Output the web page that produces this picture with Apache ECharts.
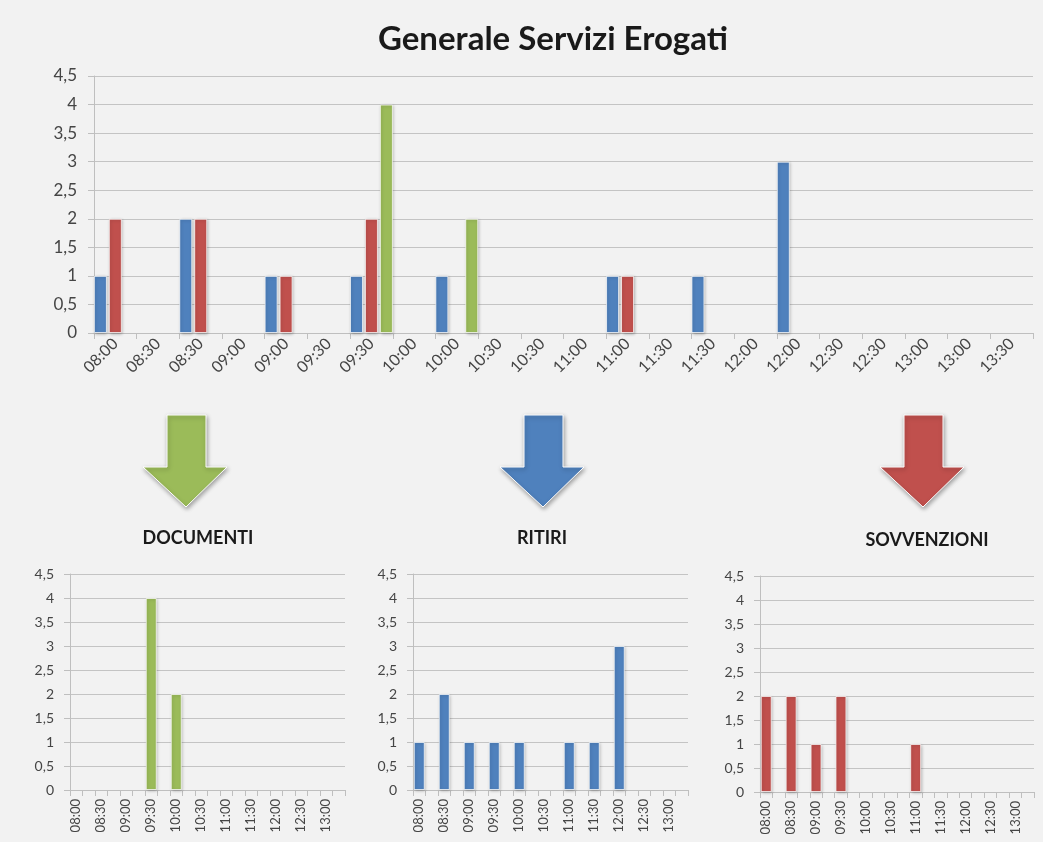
<html lang="it">
<head>
    <meta charset="UTF-8">
    <title>Generale Servizi Erogati</title>
    <script type="text/javascript" src="https://cdn.jsdelivr.net/npm/echarts@6/dist/echarts.min.js"></script>
</head>
<style>
    body { margin: 0; background: #f2f2f2; }
    #container { width: 1043px; height: 842px; }
</style>
<body>
<div id="container"></div>
<script>
    // fasce orarie (22 categorie, come nel foglio)
    var orari = ['08:00', '08:30', '08:30', '09:00', '09:00', '09:30', '09:30', '10:00', '10:00', '10:30', '10:30',
        '11:00', '11:00', '11:30', '11:30', '12:00', '12:00', '12:30', '12:30', '13:00', '13:00', '13:30'];

    // servizi erogati per fascia
    var ritiri      = [1, null, 2, null, 1, null, 1, null, 1, null, null, null, 1, null, 1, null, 3, null, null, null, null, null];
    var sovvenzioni = [2, null, 2, null, 1, null, 2, null, null, null, null, null, 1, null, null, null, null, null, null, null, null, null];
    var documenti   = [null, null, null, null, null, null, 4, null, 2, null, null, null, null, null, null, null, null, null, null, null, null, null];

    var yTicks = [0, 0.5, 1, 1.5, 2, 2.5, 3, 3.5, 4, 4.5];

    var BLU = '#4f81bd', ROSSO = '#c0504d', VERDE = '#9bbb59';
    var FONT = 'Lato';
    var TESTO = '#454545';

    var chart = echarts.init(document.getElementById('container'));

    function asseY(idx, size, margin) {
        return {
            type: 'value', gridIndex: idx,
            min: yTicks[0], max: yTicks[yTicks.length - 1], interval: 0.5,
            axisLine: { show: true, lineStyle: { color: '#bfbfbf' } },
            axisTick: { show: true, length: 6, lineStyle: { color: '#bfbfbf' } },
            splitLine: { lineStyle: { color: '#c4c4c4', width: 1.2 } },
            axisLabel: {
                color: TESTO, fontFamily: FONT, fontSize: size, margin: margin,
                formatter: function (v) { return String(v).replace('.', ','); }
            }
        };
    }

    function asseX(idx, rot, size, labelInterval, margin) {
        return {
            type: 'category', gridIndex: idx, data: orari,
            axisLine: { lineStyle: { color: '#bfbfbf' } },
            axisTick: { show: true, interval: 0, length: 6, lineStyle: { color: '#bfbfbf' } },
            axisLabel: {
                rotate: rot, interval: labelInterval, color: TESTO,
                fontFamily: FONT, fontSize: size, margin: margin
            }
        };
    }

    function stile(colore) {
        return {
            color: colore,
            borderColor: 'rgba(255,255,255,0.7)', borderWidth: 1,
            shadowColor: 'rgba(0,0,0,0.25)', shadowBlur: 3, shadowOffsetX: 1, shadowOffsetY: 1
        };
    }

    function freccia(cx, colore) {
        return {
            type: 'polygon',
            shape: {
                points: [[cx - 19, 415], [cx + 20, 415], [cx + 20, 467], [cx + 41, 467],
                    [cx, 507], [cx - 43, 467], [cx - 19, 467]]
            },
            style: {
                fill: colore, stroke: '#ffffff', lineWidth: 1,
                shadowColor: 'rgba(0,0,0,0.35)', shadowBlur: 4, shadowOffsetX: 1, shadowOffsetY: 2
            }
        };
    }

    function sottotitolo(testo, x, y) {
        return {
            text: testo, left: x, top: y, textAlign: 'center',
            textStyle: { fontFamily: FONT, fontSize: 18, fontWeight: 'bold', color: '#1a1a1a' }
        };
    }

    var option = {
        backgroundColor: '#f2f2f2',
        animation: false,
        title: [
            { text: 'Generale Servizi Erogati', left: 548, top: 18, textAlign: 'center',
              textStyle: { fontFamily: FONT, fontSize: 33, fontWeight: 'bold', color: '#1a1a1a' } },
            sottotitolo('DOCUMENTI', 193, 524),
            sottotitolo('RITIRI', 537, 524),
            sottotitolo('SOVVENZIONI', 922, 526)
        ],
        grid: [
            { left: 94, right: 10, top: 76, bottom: 509, outerBoundsMode: 'none' },
            { left: 70, width: 275, top: 574, bottom: 52, outerBoundsMode: 'none' },
            { left: 413, width: 275, top: 574, bottom: 52, outerBoundsMode: 'none' },
            { left: 760, width: 274, top: 576, bottom: 50, outerBoundsMode: 'none' }
        ],
        xAxis: [
            asseX(0, 45, 16, 0, 8),
            asseX(1, 90, 13, 1, 9),
            asseX(2, 90, 13, 1, 9),
            asseX(3, 90, 13, 1, 9)
        ],
        yAxis: [
            asseY(0, 17, 17),
            asseY(1, 14, 16),
            asseY(2, 14, 16),
            asseY(3, 14, 16)
        ],
        series: [
            { name: 'Ritiri', type: 'bar', xAxisIndex: 0, yAxisIndex: 0, data: ritiri,
              barWidth: 13, barGap: '15%', itemStyle: stile(BLU) },
            { name: 'Sovvenzioni', type: 'bar', xAxisIndex: 0, yAxisIndex: 0, data: sovvenzioni,
              barWidth: 13, barGap: '15%', itemStyle: stile(ROSSO) },
            { name: 'Documenti', type: 'bar', xAxisIndex: 0, yAxisIndex: 0, data: documenti,
              barWidth: 13, barGap: '15%', itemStyle: stile(VERDE) },

            { name: 'Documenti', type: 'bar', xAxisIndex: 1, yAxisIndex: 1, data: documenti,
              barCategoryGap: '12%', itemStyle: stile(VERDE) },
            { name: 'Ritiri', type: 'bar', xAxisIndex: 2, yAxisIndex: 2, data: ritiri,
              barCategoryGap: '12%', itemStyle: stile(BLU) },
            { name: 'Sovvenzioni', type: 'bar', xAxisIndex: 3, yAxisIndex: 3, data: sovvenzioni,
              barCategoryGap: '12%', itemStyle: stile(ROSSO) }
        ],
        graphic: [
            freccia(186, VERDE),
            freccia(543, BLU),
            freccia(923, ROSSO)
        ]
    };

    chart.setOption(option);
</script>
</body>
</html>
